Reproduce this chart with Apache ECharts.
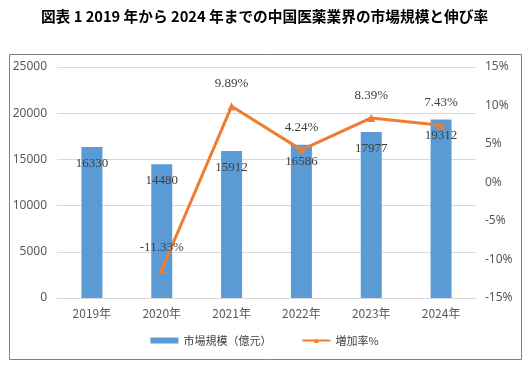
<!DOCTYPE html>
<html>
<head>
<meta charset="utf-8">
<script src="https://cdn.jsdelivr.net/npm/echarts@6/dist/echarts.min.js"></script>
<style>html,body{margin:0;padding:0;background:#fff;}#c{width:529px;height:369px;}</style>
</head>
<body>
<div id="c"></div>
<script>
const titleText = '図表 1 2019 年から 2024 年までの中国医薬業界の市場規模と伸び率';
const categories = ['2019年', '2020年', '2021年', '2022年', '2023年', '2024年'];
const marketSize = [16330, 14480, 15912, 16586, 17977, 19312];
const growthRate = [null, -11.33, 9.89, 4.24, 8.39, 7.43];
const leftTicks = { min: 0, max: 25000, interval: 5000 };
const rightTicks = { min: -15, max: 15, interval: 5 };
const seriesNames = ['市場規模（億元）', '増加率%'];

const chart = echarts.init(document.getElementById('c'), null, { renderer: 'canvas' });
const labelFont = '"Liberation Serif", "DejaVu Serif", serif';
chart.setOption({
  animation: false,
  backgroundColor: '#fff',
  title: {
    text: titleText,
    left: 'center',
    top: 4,
    textStyle: { fontFamily: '"Noto Sans CJK JP", sans-serif', fontSize: 14.7, fontWeight: 'bold', color: '#000' }
  },
  graphic: [{
    type: 'rect',
    shape: { x: 9.5, y: 54.5, width: 512, height: 305 },
    style: { fill: 'none', stroke: '#808080', lineWidth: 1 },
    silent: true
  }],
  legend: {
    bottom: 18,
    left: 'center',
    itemGap: 30,
    itemWidth: 28,
    itemHeight: 6,
    textStyle: { fontFamily: '"Noto Sans CJK JP", sans-serif', fontSize: 11, color: '#404040' },
    data: [{ name: seriesNames[0], icon: 'rect' }, { name: seriesNames[1] }]
  },
  grid: { left: 57, right: 53, top: 67, bottom: 71 },
  xAxis: {
    type: 'category',
    data: categories,
    axisLine: { show: true, lineStyle: { color: '#d9d9d9' } },
    axisTick: { show: false },
    axisLabel: { color: '#595959', fontSize: 12, margin: 9, fontFamily: '"Noto Sans CJK JP", sans-serif' }
  },
  yAxis: [{
    type: 'value',
    min: leftTicks.min, max: leftTicks.max, interval: leftTicks.interval,
    axisLine: { show: false },
    axisTick: { show: false },
    splitLine: { lineStyle: { color: '#d9d9d9' } },
    axisLabel: { color: '#595959', fontSize: 12, margin: 10, formatter: v => String(v), fontFamily: '"Noto Sans", sans-serif' }
  }, {
    type: 'value',
    min: rightTicks.min, max: rightTicks.max, interval: rightTicks.interval,
    axisLine: { show: false },
    axisTick: { show: false },
    splitLine: { show: false },
    axisLabel: { color: '#595959', fontSize: 12, margin: 9, formatter: '{value}%', fontFamily: '"Noto Sans", sans-serif' }
  }],
  series: [{
    name: seriesNames[0],
    type: 'bar',
    data: marketSize,
    barWidth: 21,
    itemStyle: { color: '#5B9BD5' },
    label: {
      show: true, position: 'insideTop', distance: 10,
      color: '#404040', fontSize: 13, fontFamily: labelFont
    }
  }, {
    name: seriesNames[1],
    type: 'line',
    yAxisIndex: 1,
    data: growthRate,
    z: 5,
    symbol: 'triangle',
    symbolSize: 8,
    lineStyle: { color: '#ED7D31', width: 3 },
    itemStyle: { color: '#ED7D31' },
    label: {
      show: true, position: 'top', distance: 12,
      color: '#404040', fontSize: 13, fontFamily: labelFont,
      formatter: p => p.value.toFixed(2) + '%'
    }
  }]
});
</script>
</body>
</html>
